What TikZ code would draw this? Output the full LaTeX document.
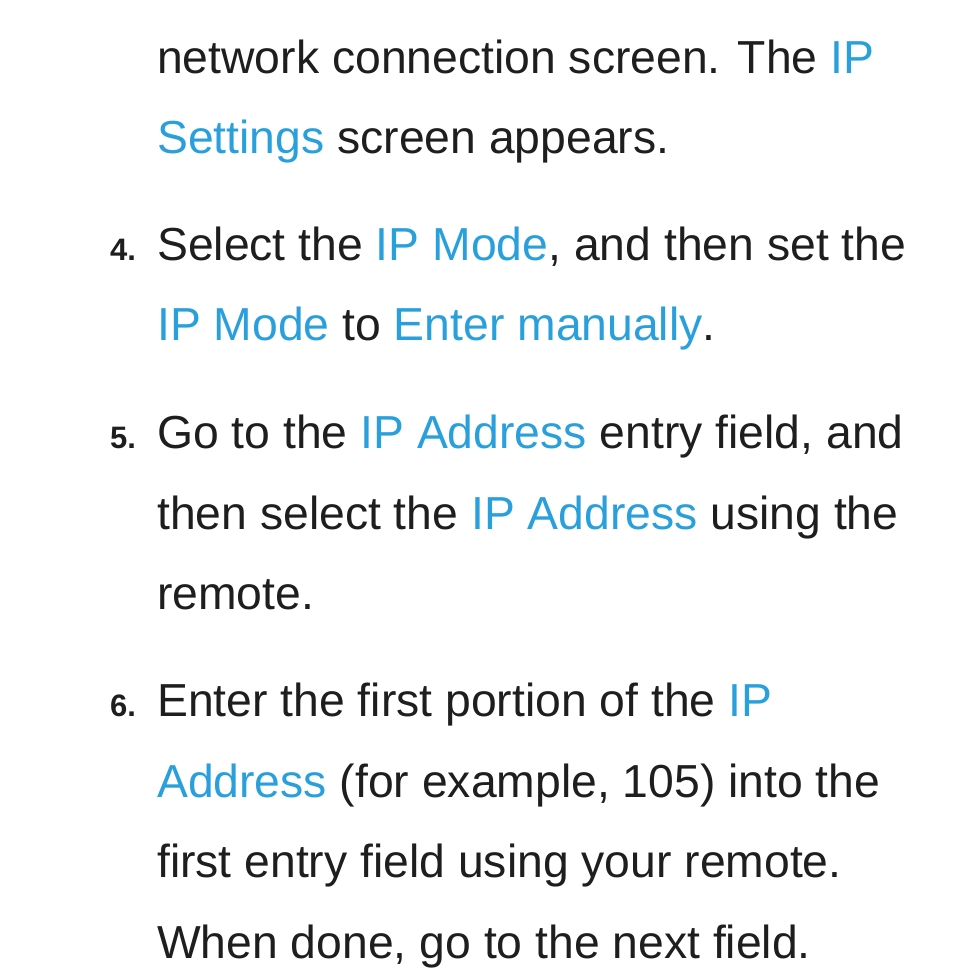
\documentclass[tikz,border=0pt]{standalone}
\usepackage{fontspec}
\setmainfont{Liberation Sans}
\definecolor{hl}{RGB}{41,160,220}
\definecolor{txt}{RGB}{30,30,30}
\newcommand{\hb}[1]{\textcolor{hl}{#1}}
\begin{document}
\begin{tikzpicture}[x=1pt,y=-1pt,
  ln/.style={anchor=base west,inner sep=0pt,font=\fontsize{46.3}{46}\selectfont,text=txt},
  num/.style={anchor=base west,inner sep=0pt,font=\fontsize{31}{31}\selectfont\bfseries,text=txt}]
\useasboundingbox (0,0) rectangle (954,977);
\node[ln] (l1) at (157,73) {network connection screen. The \hb{IP}};
\node[ln] (l2) at (157,153) {\hb{Settings} screen appears.};
\node[num] (n4) at (110,260) {4.};
\node[ln] (l3) at (157,260) {Select the \hb{IP Mode}, and then set the};
\node[ln] (l4) at (157,340) {\hb{IP Mode} to \hb{Enter manually}.};
\node[num] (n5) at (110,448) {5.};
\node[ln] (l5) at (157,448) {Go to the \hb{IP Address} entry field, and};
\node[ln] (l6) at (157,529) {then select the \hb{IP Address} using the};
\node[ln] (l7) at (157,609) {remote.};
\node[num] (n6) at (110,716) {6.};
\node[ln] (l8) at (157,716) {Enter the first portion of the \hb{IP}};
\node[ln] (l9) at (157,797) {\hb{Address} (for example, 105) into the};
\node[ln] (l10) at (157,877) {first entry field using your remote.};
\node[ln] (l11) at (157,958) {When done, go to the next field.};
\end{tikzpicture}
\end{document}
